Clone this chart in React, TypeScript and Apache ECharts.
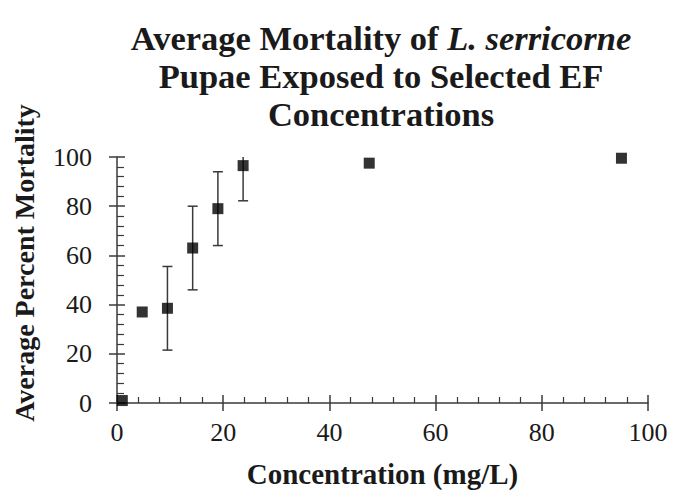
import React, { useEffect, useRef } from "react";
import * as echarts from "echarts";

const concentrations = [1, 4.75, 9.5, 14.25, 19, 23.75, 47.5, 95];
const mortality = [1, 37, 38.5, 63, 79, 96.5, 97.5, 99.5];
const stdErr = [0, 0, 17, 17, 15, 14.3, 0, 0];
const xTicks = [0, 20, 40, 60, 80, 100];
const yTicks = [0, 20, 40, 60, 80, 100];

const FONT = "'Liberation Serif', 'Times New Roman', serif";
const AXIS = "#3a3a3a";
const TEXT = "#1a1a1a";

export default function App() {
  const ref = useRef<HTMLDivElement>(null);
  useEffect(() => {
    if (!ref.current) return;
    const chart = echarts.init(ref.current, undefined, { renderer: "svg" });
    const points = concentrations.map((c, i) => [c, mortality[i]]);
    const errData = concentrations
      .map((c, i) => [c, mortality[i] - stdErr[i], mortality[i] + stdErr[i], stdErr[i]])
      .filter((d) => d[3] > 0);
    const xMin = xTicks[0], xMax = xTicks[xTicks.length - 1];
    const yMin = yTicks[0], yMax = yTicks[yTicks.length - 1];
    const xInt = xTicks[1] - xTicks[0];
    const yInt = yTicks[1] - yTicks[0];
    const baseX = {
      type: "value",
      min: xMin,
      max: xMax,
      interval: xInt,
      position: "bottom",
      splitLine: { show: false },
    };
    const baseY = {
      type: "value",
      min: yMin,
      max: yMax,
      interval: yInt,
      position: "left",
      splitLine: { show: false },
    };
    const titleRich = {
      b: { fontFamily: FONT, fontWeight: "bold", fontSize: 34.5, lineHeight: 38, fill: TEXT, color: TEXT },
      i: { fontFamily: FONT, fontWeight: "bold", fontStyle: "italic", fontSize: 34.5, lineHeight: 38, fill: TEXT, color: TEXT },
    };
    chart.setOption({
      animation: false,
      backgroundColor: "#ffffff",
      grid: { left: 117, right: 27, top: 157, bottom: 93, containLabel: false },
      xAxis: [
        {
          ...baseX,
          name: "Concentration (mg/L)",
          nameLocation: "middle",
          nameGap: 56,
          nameTextStyle: { fontFamily: FONT, fontWeight: "bold", fontSize: 29, color: TEXT },
          axisLine: { show: true, onZero: false, lineStyle: { color: AXIS, width: 1.5 } },
          axisTick: { show: true, inside: false, length: 8, lineStyle: { color: AXIS, width: 1.5 } },
          minorTick: { show: false },
          axisLabel: { fontFamily: FONT, fontSize: 26, color: TEXT, margin: 16 },
        },
        {
          ...baseX,
          axisLine: { show: false, onZero: false },
          axisTick: { show: true, inside: true, length: 8, lineStyle: { color: AXIS, width: 1.5 } },
          minorTick: { show: true, splitNumber: 5, length: 6, lineStyle: { color: AXIS, width: 1.2 } },
          axisLabel: { show: false },
        },
      ],
      yAxis: [
        {
          ...baseY,
          axisLine: { show: true, onZero: false, lineStyle: { color: AXIS, width: 1.5 } },
          axisTick: { show: true, inside: false, length: 8, lineStyle: { color: AXIS, width: 1.5 } },
          minorTick: { show: false },
          axisLabel: { fontFamily: FONT, fontSize: 26, color: TEXT, margin: 25 },
        },
        {
          ...baseY,
          axisLine: { show: false, onZero: false },
          axisTick: { show: true, inside: true, length: 8, lineStyle: { color: AXIS, width: 1.5 } },
          minorTick: { show: true, splitNumber: 5, length: 7, lineStyle: { color: AXIS, width: 1.2 } },
          axisLabel: { show: false },
        },
      ],
      graphic: [
        {
          type: "text",
          x: 381,
          y: 19,
          style: {
            text: "{b|Average Mortality of }{i|L. serricorne}\n{b|Pupae Exposed to Selected EF}\n{b|Concentrations}",
            rich: titleRich,
            align: "center",
            verticalAlign: "top",
            fill: TEXT,
          },
        },
        {
          type: "text",
          x: 24,
          y: 263,
          rotation: Math.PI / 2,
          style: {
            text: "Average Percent Mortality",
            fontFamily: FONT,
            fontWeight: "bold",
            fontSize: 28,
            fill: TEXT,
            align: "center",
            verticalAlign: "middle",
          },
        },
      ],
      series: [
        {
          type: "custom",
          xAxisIndex: 0,
          yAxisIndex: 0,
          clip: true,
          z: 2,
          data: errData,
          renderItem: (params: any, api: any) => {
            const x = api.value(0);
            const lo = api.coord([x, api.value(1)]);
            const hi = api.coord([x, api.value(2)]);
            const w = 5;
            const style = { stroke: AXIS, lineWidth: 1.5 };
            return {
              type: "group",
              children: [
                { type: "line", shape: { x1: lo[0], y1: lo[1], x2: hi[0], y2: hi[1] }, style },
                { type: "line", shape: { x1: lo[0] - w, y1: lo[1], x2: lo[0] + w, y2: lo[1] }, style },
                { type: "line", shape: { x1: hi[0] - w, y1: hi[1], x2: hi[0] + w, y2: hi[1] }, style },
              ],
            };
          },
        },
        {
          type: "scatter",
          xAxisIndex: 0,
          yAxisIndex: 0,
          symbol: "rect",
          symbolSize: 11,
          z: 5,
          itemStyle: { color: "#000000" },
          data: points,
        },
      ],
    });
    return () => chart.dispose();
  }, []);
  return <div ref={ref} style={{ width: 675, height: 496, position: "absolute", left: 0, top: 0 }} />;
}
